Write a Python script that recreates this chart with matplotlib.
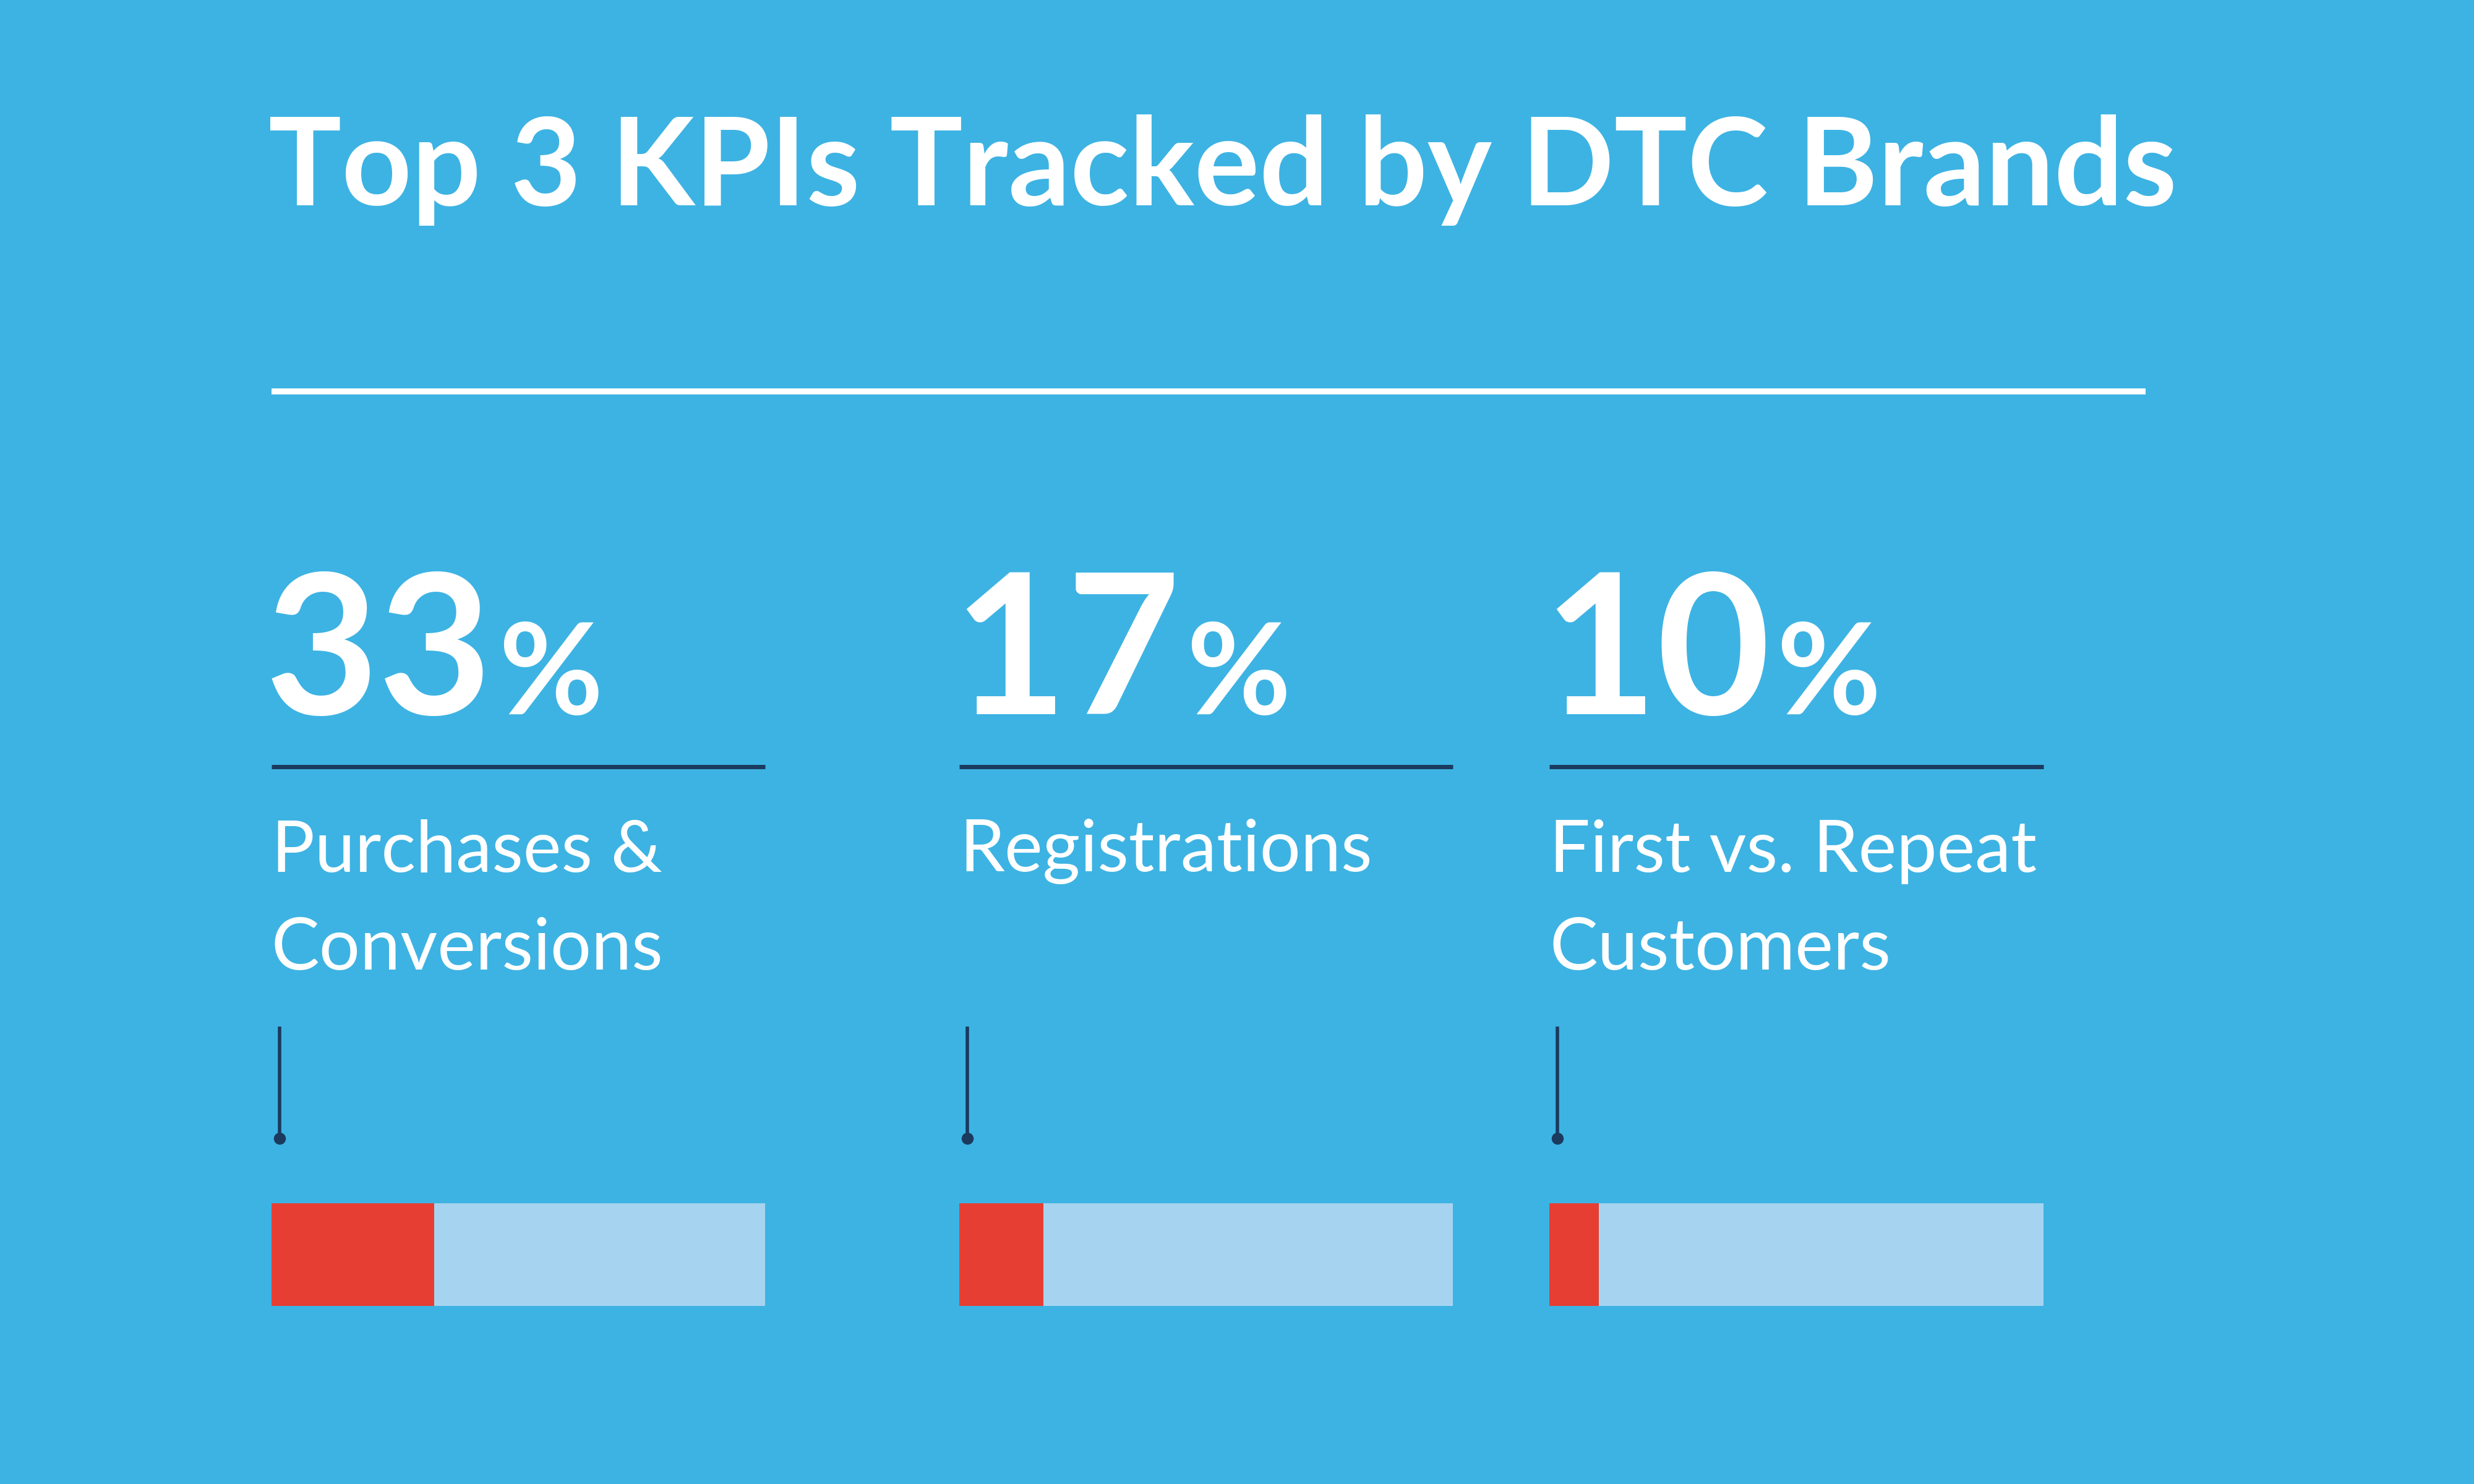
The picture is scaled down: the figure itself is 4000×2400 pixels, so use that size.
import matplotlib
matplotlib.use("Agg")
import matplotlib.pyplot as plt

# data
categories = ["Purchases &\nConversions", "Registrations", "First vs. Repeat\nCustomers"]
values = [33, 17, 10]
value_labels = ["33", "17", "10"]
title = "Top 3 KPIs Tracked by DTC Brands"

BG = "#3db3e3"
LIGHT = "#a6d4f0"
RED = "#e63e33"
DARK = "#1b3a5e"

fig = plt.figure(figsize=(20, 12), dpi=200, facecolor=BG)
ax = fig.add_axes([0, 0, 1, 1])
ax.set_facecolor(BG)
ax.set_xlim(0, 1568)
ax.set_ylim(941, 0)
ax.axis("off")

ax.text(170, 108, title, color="white", fontsize=71, fontweight="bold",
        family="Lato", va="center", ha="left")
ax.plot([172, 1360], [248, 248], color="white", lw=3.5, solid_capstyle="butt")

lefts = [172, 608, 982]
width = 313
for x0, v, lab, cat in zip(lefts, values, value_labels, categories):
    t = ax.text(x0 - 4, 453, lab, color="white", fontsize=114, fontweight="bold",
                family="Lato", va="baseline", ha="left")
    fig.canvas.draw()
    bb = t.get_window_extent().transformed(ax.transData.inverted())
    ax.text(bb.x1 + 4, 453, "%", color="white", fontsize=74, fontweight="bold",
            family="Lato", va="baseline", ha="left")
    ax.plot([x0, x0 + width], [486, 486], color=DARK, lw=2.5, solid_capstyle="butt")
    for i, ln in enumerate(cat.split("\n")):
        ax.text(x0, 540 + 62 * i, ln, color="white", fontsize=42, family="Lato",
                va="center", ha="left")
    ax.plot([x0 + 5, x0 + 5], [652, 722], color=DARK, lw=2)
    ax.plot(x0 + 5, 722, "o", color=DARK, ms=6)
    ax.barh(795.5, width, left=x0, height=65, color=LIGHT)
    ax.barh(795.5, width * v / 100, left=x0, height=65, color=RED)

fig.savefig("out.png", dpi=200, facecolor=BG)
